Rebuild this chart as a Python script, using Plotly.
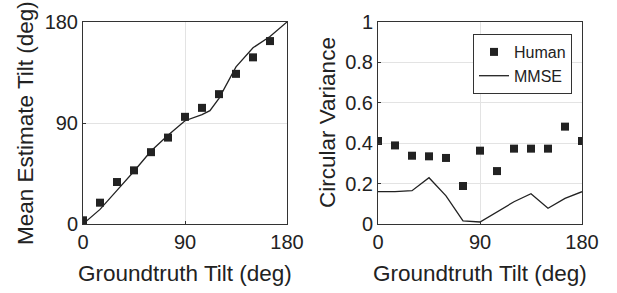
import plotly.graph_objects as go

# Left panel data
human_x_left = [0, 15, 30, 45, 60, 75, 90, 105, 120, 135, 150, 165]
human_mean = [3.3, 19, 37.4, 47.8, 64, 77, 95.5, 103.5, 115.7, 133.8, 148.5, 163]
mmse_x_left = [0, 15, 30, 45, 60, 75, 90, 105, 112, 120, 135, 150, 165, 180]
mmse_mean = [0, 13, 30, 47, 65, 79, 92, 97.5, 101, 112, 140, 157, 167, 180]

# Right panel data
human_x_right = [0, 15, 30, 45, 60, 75, 90, 105, 120, 135, 150, 165, 180]
human_cv = [0.411, 0.389, 0.338, 0.335, 0.327, 0.188, 0.363, 0.262, 0.373, 0.373, 0.373, 0.482, 0.411]
mmse_x_right = [0, 15, 30, 45, 60, 75, 90, 105, 120, 135, 150, 165, 180]
mmse_cv = [0.16, 0.16, 0.165, 0.229, 0.139, 0.015, 0.01, 0.058, 0.11, 0.15, 0.078, 0.127, 0.16]

tick_deg = [0, 90, 180]
cv_ticks = [0, 0.2, 0.4, 0.6, 0.8, 1]
cv_labels = ["0", "0.2", "0.4", "0.6", "0.8", "1"]

x_title = "Groundtruth Tilt (deg)"
y_title_left = "Mean Estimate Tilt (deg)"
y_title_right = "Circular Variance"

INK = "#222222"
FONT = "Liberation Sans, Arial, Helvetica, sans-serif"
W, H = 617, 293

fig = go.Figure()

fig.add_trace(go.Scatter(x=mmse_x_left, y=mmse_mean, mode="lines",
                         line=dict(color=INK, width=1.3), showlegend=False,
                         xaxis="x", yaxis="y"))
fig.add_trace(go.Scatter(x=human_x_left, y=human_mean, mode="markers",
                         marker=dict(symbol="square", size=8, color=INK),
                         showlegend=False, xaxis="x", yaxis="y"))

fig.add_trace(go.Scatter(x=human_x_right, y=human_cv, mode="markers", name="Human",
                         marker=dict(symbol="square", size=8, color=INK),
                         xaxis="x2", yaxis="y2"))
fig.add_trace(go.Scatter(x=mmse_x_right, y=mmse_cv, mode="lines", name="MMSE",
                         line=dict(color=INK, width=1.3),
                         xaxis="x2", yaxis="y2"))

common = dict(showline=True, linecolor="#333333", linewidth=1, mirror=True,
              ticks="inside", ticklen=3, tickcolor="#333333", automargin=False,
              showgrid=True, gridcolor="#e3e3e3", gridwidth=1, zeroline=False,
              tickfont=dict(size=20, color=INK, family=FONT))

ydom = [1 - 224 / H, 1 - 22 / H]
xdom1 = [83 / W, 287 / W]
xdom2 = [378 / W, 582 / W]

fig.update_layout(
    width=W, height=H,
    margin=dict(l=0, r=0, t=0, b=0),
    paper_bgcolor="white", plot_bgcolor="white",
    font=dict(family=FONT, color=INK),
    xaxis=dict(domain=xdom1, range=[0, 180], tickvals=tick_deg, anchor="y", **common),
    yaxis=dict(domain=ydom, range=[0, 180], tickvals=tick_deg, anchor="x", **common),
    xaxis2=dict(domain=xdom2, range=[0, 180], tickvals=tick_deg, anchor="y2", **common),
    yaxis2=dict(domain=ydom, range=[0, 1], tickvals=cv_ticks, ticktext=cv_labels,
                anchor="x2", **common),
    legend=dict(x=473 / W, y=1 - 34 / H, xanchor="left", yanchor="top",
                bgcolor="white", bordercolor="#333333", borderwidth=1,
                font=dict(size=16, color=INK, family=FONT),
                itemwidth=30, tracegroupgap=0),
)

tfont = dict(size=22.5, color=INK, family=FONT)
ymid = 1 - 123 / H
fig.add_annotation(text=x_title, xref="paper", yref="paper", x=(xdom1[0] + xdom1[1]) / 2,
                   y=1 - 273 / H, showarrow=False, font=tfont, xanchor="center", yanchor="middle")
fig.add_annotation(text=x_title, xref="paper", yref="paper", x=(xdom2[0] + xdom2[1]) / 2,
                   y=1 - 273 / H, showarrow=False, font=tfont, xanchor="center", yanchor="middle")
fig.add_annotation(text=y_title_left, xref="paper", yref="paper", x=25 / W, y=ymid,
                   textangle=-90, showarrow=False, font=tfont, xanchor="center", yanchor="middle")
fig.add_annotation(text=y_title_right, xref="paper", yref="paper", x=327 / W, y=ymid,
                   textangle=-90, showarrow=False, font=tfont, xanchor="center", yanchor="middle")

fig.write_html("out.html", config={"displayModeBar": False},
               post_script="document.body.style.margin='0';document.body.style.overflow='hidden';")
